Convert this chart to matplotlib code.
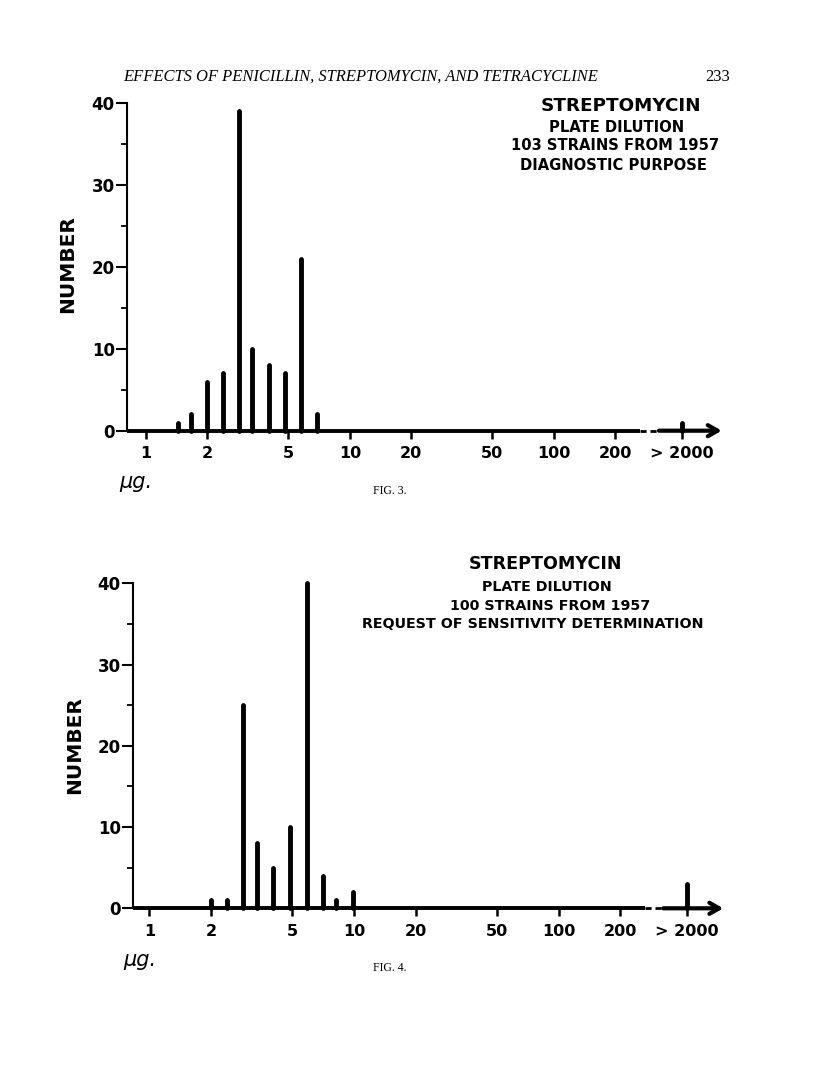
import numpy as np
import matplotlib.pyplot as plt

# Fig. 3: streptomycin, plate dilution, 103 strains (diagnostic purpose)
doses_fig3 = [1.43, 1.66, 2.0, 2.38, 2.87, 3.33, 4.0, 4.78, 5.76, 6.88]
counts_fig3 = [1, 2, 6, 7, 39, 10, 8, 7, 21, 2]
over_fig3 = 1  # strains with MIC > 2000

# Fig. 4: streptomycin, plate dilution, 100 strains (sensitivity request)
doses_fig4 = [2.0, 2.4, 2.86, 3.36, 4.02, 4.86, 5.86, 7.05, 8.2, 9.9]
counts_fig4 = [1, 1, 25, 8, 5, 10, 40, 4, 1, 2]
over_fig4 = 3

xtick_vals = [1, 2, 5, 10, 20, 50, 100, 200]
xtick_labels = ['1', '2', '5', '10', '20', '50', '100', '200', '> 2000']
ytick_vals = [0, 10, 20, 30, 40]

title_fig3 = ['PLATE DILUTION', '103 STRAINS FROM 1957', 'DIAGNOSTIC PURPOSE']
title_fig4 = ['PLATE DILUTION', '100 STRAINS FROM 1957',
              'REQUEST OF SENSITIVITY DETERMINATION']

W, H = 816, 1087
OVER_POS = 424  # where the ">2000" column sits on the broken axis

fig = plt.figure(figsize=(W / 100, H / 100), dpi=100)
fig.patch.set_facecolor('white')


def px(x, y):
    return x / W, 1 - y / H


def draw_panel(rect, xlim, brk, doses, counts, over):
    ax = fig.add_axes(rect)
    ax.set_xscale('log')
    ax.set_xlim(*xlim)
    ax.set_ylim(0, 40)
    for s in ['top', 'right', 'bottom']:
        ax.spines[s].set_visible(False)
    ax.spines['left'].set_linewidth(1.5)

    # bars as thick rounded strokes
    lc = ax.vlines(doses + [OVER_POS], 0, counts + [over], color='black',
                   linewidth=3.5, clip_on=False)
    lc.set_capstyle('round')

    # broken x axis with arrow
    ax.plot([xlim[0], brk[0]], [0, 0], color='black', lw=2.8,
            solid_capstyle='butt', clip_on=False)
    ax.plot([brk[0], brk[1]], [0, 0], color='black', lw=2.0,
            dashes=(2.2, 1.4), clip_on=False)
    ax.annotate('', xy=(xlim[1], 0), xytext=(brk[1], 0),
                arrowprops=dict(arrowstyle='->,head_length=0.7,head_width=0.4',
                                lw=3.0, color='black', shrinkA=0, shrinkB=0),
                annotation_clip=False)

    ax.set_xticks(xtick_vals + [OVER_POS])
    ax.set_xticklabels(xtick_labels)
    ax.xaxis.set_minor_locator(plt.NullLocator())
    ax.tick_params(axis='x', direction='out', length=6, width=1.8, pad=5,
                   labelsize=11.5)
    ax.set_yticks(ytick_vals)
    ax.set_yticks([5, 15, 25, 35], minor=True)
    ax.tick_params(axis='y', which='major', length=8, width=1.5, pad=1,
                   labelsize=12)
    ax.tick_params(axis='y', which='minor', length=4, width=1.3)
    for lab in ax.get_xticklabels() + ax.get_yticklabels():
        lab.set_fontweight('bold')
    return ax


draw_panel([127.3 / W, 1 - 430.7 / H, 594.4 / W, 327.4 / H],
           (0.81, 666), (265, 328), doses_fig3, counts_fig3, over_fig3)
draw_panel([133.3 / W, 1 - 908.3 / H, 590 / W, 325 / H],
           (0.835, 637), (264, 324), doses_fig4, counts_fig4, over_fig4)

# page header
fig.text(*px(123, 77), 'EFFECTS OF PENICILLIN, STREPTOMYCIN, AND TETRACYCLINE',
         family='Liberation Serif', style='italic', fontsize=11.9,
         ha='left', va='center')
fig.text(*px(718, 77), '233', family='Liberation Serif', fontsize=12,
         ha='center', va='center')

# panel titles
fig.text(*px(621, 106), 'STREPTOMYCIN', fontweight='bold', fontsize=13.2,
         ha='center', va='center')
for line, xx, yy in zip(title_fig3, [617, 615, 614], [128, 146, 165]):
    fig.text(*px(xx, yy), line, fontweight='bold', fontsize=10.6,
             ha='center', va='center')
fig.text(*px(545, 564), 'STREPTOMYCIN', fontweight='bold', fontsize=12.6,
         ha='center', va='center')
for line, xx, yy in zip(title_fig4, [547, 550, 533], [587, 606, 624]):
    fig.text(*px(xx, yy), line, fontweight='bold', fontsize=10.3,
             ha='center', va='center')

# axis labels
fig.text(*px(68, 264), 'NUMBER', fontweight='bold', fontsize=14.5,
         rotation=90, ha='center', va='center')
fig.text(*px(75, 745), 'NUMBER', fontweight='bold', fontsize=14.5,
         rotation=90, ha='center', va='center')
fig.text(*px(136, 482), 'μg.', style='italic', fontsize=15,
         ha='center', va='center')
fig.text(*px(140, 960), 'μg.', style='italic', fontsize=15,
         ha='center', va='center')

# figure captions
fig.text(*px(390, 491), 'FIG. 3.', family='Liberation Serif', fontsize=8.5,
         ha='center', va='center')
fig.text(*px(390, 968), 'FIG. 4.', family='Liberation Serif', fontsize=8.5,
         ha='center', va='center')

fig.savefig('out.png', dpi=100, facecolor='white')
